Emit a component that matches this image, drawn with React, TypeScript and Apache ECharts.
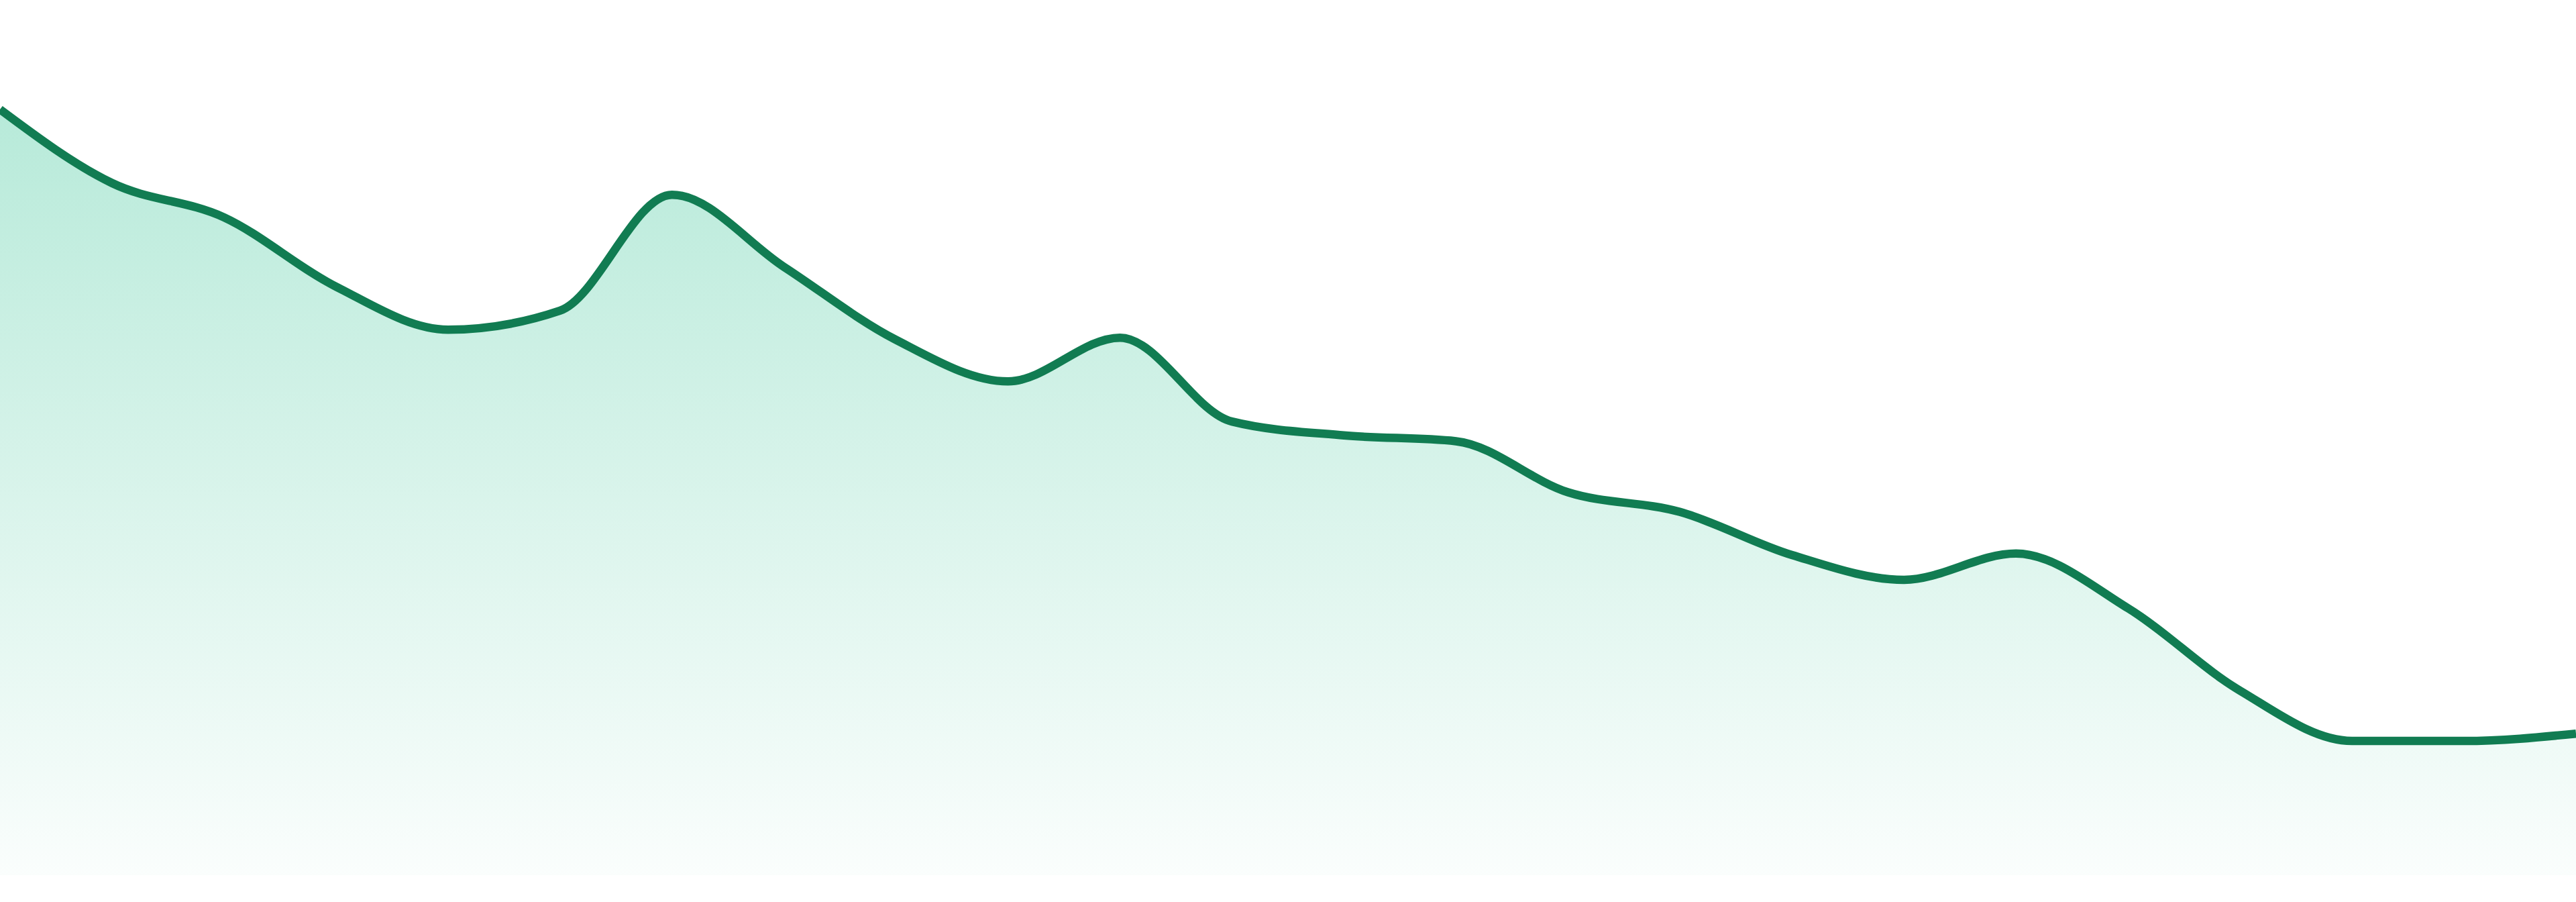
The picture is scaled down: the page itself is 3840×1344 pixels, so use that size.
import React, { useEffect, useRef } from 'react';
import * as echarts from 'echarts';

const categories = [
  '01', '02', '03', '04', '05', '06', '07', '08', '09', '10', '11', '12',
  '13', '14', '15', '16', '17', '18', '19', '20', '21', '22', '23', '24',
];

const values = [
  105.0, 94.9, 90.2, 80.7, 74.8, 77.4, 93.3, 83.4, 73.4, 67.7, 73.7, 62.2,
  60.3, 59.5, 52.5, 49.8, 43.9, 40.5, 44.1, 36.6, 25.3, 18.4, 18.4, 19.4,
];

const yMin = 0;
const yMax = 120;

// monotone cubic (same idea as d3 curveMonotoneX), built on pixel points from api.coord
const slope3 = (p0: number[], p1: number[], p2: number[]) => {
  const h0 = p1[0] - p0[0];
  const h1 = p2[0] - p1[0];
  const s0 = (p1[1] - p0[1]) / h0;
  const s1 = (p2[1] - p1[1]) / h1;
  const p = (s0 * h1 + s1 * h0) / (h0 + h1);
  return (Math.sign(s0) + Math.sign(s1)) * Math.min(Math.abs(s0), Math.abs(s1), 0.5 * Math.abs(p)) || 0;
};

const slope2 = (p0: number[], p1: number[], t: number) => {
  const h = p1[0] - p0[0];
  return h ? (3 * (p1[1] - p0[1]) / h - t) / 2 : t;
};

const monotonePath = (pts: number[][]) => {
  const n = pts.length;
  const t: number[] = new Array(n).fill(0);
  for (let i = 1; i < n - 1; i++) t[i] = slope3(pts[i - 1], pts[i], pts[i + 1]);
  t[0] = slope2(pts[0], pts[1], t[1]);
  t[n - 1] = slope2(pts[n - 2], pts[n - 1], t[n - 2]);
  let d = `M${pts[0][0]},${pts[0][1]}`;
  for (let i = 0; i < n - 1; i++) {
    const [x0, y0] = pts[i];
    const [x1, y1] = pts[i + 1];
    const dx = (x1 - x0) / 3;
    d += ` C${x0 + dx},${y0 + dx * t[i]} ${x1 - dx},${y1 - dx * t[i + 1]} ${x1},${y1}`;
  }
  return d;
};

const AreaChart: React.FC = () => {
  const chartRef = useRef<HTMLDivElement>(null);

  useEffect(() => {
    if (!chartRef.current) return;
    const myChart = echarts.init(chartRef.current, undefined, { renderer: 'svg' });

    const option = {
      animation: false,
      grid: { left: 0, right: 0, top: 0, bottom: 40 },
      xAxis: {
        type: 'category',
        data: categories,
        boundaryGap: false,
        show: false,
      },
      yAxis: {
        type: 'value',
        min: yMin,
        max: yMax,
        show: false,
        splitLine: { show: false },
      },
      series: [
        {
          type: 'custom',
          data: values.map((v, i) => [i, v]),
          encode: { x: 0, y: 1 },
          renderItem: (params: any, api: any) => {
            if (params.dataIndex !== 0) return null;
            const pts = values.map((v, i) => api.coord([i, v]));
            const base = api.coord([0, yMin])[1];
            const line = monotonePath(pts);
            const last = pts[pts.length - 1];
            const area = `${line} L${last[0]},${base} L${pts[0][0]},${base} Z`;
            return {
              type: 'group',
              children: [
                {
                  type: 'path',
                  shape: { pathData: area },
                  style: {
                    fill: new echarts.graphic.LinearGradient(0, 0, 0, 1, [
                      { offset: 0, color: 'rgba(16,185,129,0.3)' },
                      { offset: 1, color: 'rgba(16,185,129,0.02)' },
                    ]),
                  },
                },
                {
                  type: 'path',
                  shape: { pathData: line },
                  style: { fill: 'none', stroke: '#117c52', lineWidth: 12.5, lineJoin: 'round' },
                },
              ],
            };
          },
        },
      ],
    };

    myChart.setOption(option);

    const resizeChart = () => myChart.resize();
    window.addEventListener('resize', resizeChart);

    return () => {
      window.removeEventListener('resize', resizeChart);
      myChart.dispose();
    };
  }, []);

  return (
    <div
      ref={chartRef}
      style={{ position: 'absolute', left: 0, top: 0, width: '100vw', height: '100vh' }}
    ></div>
  );
};

export default function App() {
  return <AreaChart />;
}
